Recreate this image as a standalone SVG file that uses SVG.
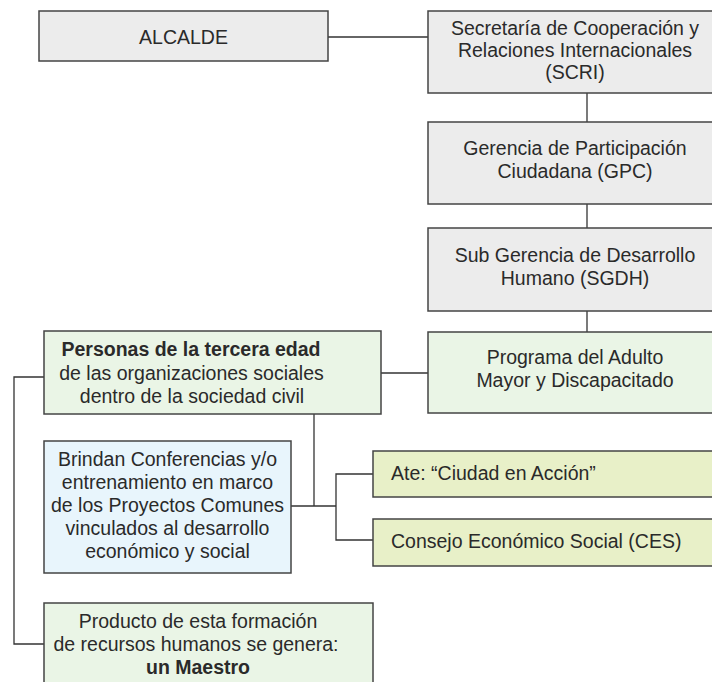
<svg xmlns="http://www.w3.org/2000/svg" width="712" height="682" viewBox="0 0 712 682">
<style>
  .box { stroke: #444; stroke-width: 1.5; }
  .grey { fill: #ececec; }
  .green { fill: #eaf5e6; }
  .blue { fill: #e8f5fc; }
  .olive { fill: #e8f0c8; }
  text { font-family: "Liberation Sans", Arial, sans-serif; font-size: 19.5px; fill: #2a2a2a; }
  .c { text-anchor: middle; }
  .b { font-weight: bold; }
  .conn { stroke: #333; stroke-width: 1.3; fill: none; }
</style>
<rect width="712" height="682" fill="#ffffff"/>
<g id="connectors">
  <path class="conn" d="M328 37 H428"/>
  <path class="conn" d="M587 93 V122"/>
  <path class="conn" d="M587 204 V228"/>
  <path class="conn" d="M587 311 V332"/>
  <path class="conn" d="M381 373 H428"/>
  <path class="conn" d="M44 377 H14 V644 H44"/>
  <path class="conn" d="M314 414 V506"/>
  <path class="conn" d="M291 506 H336"/>
  <path class="conn" d="M373 474 H336 V540 H373"/>
</g>
<g id="alcalde">
  <rect class="box grey" x="39" y="11" width="289" height="50"/>
  <text class="c" x="183.5" y="44">ALCALDE</text>
</g>
<g id="scri">
  <rect class="box grey" x="428" y="11" width="300" height="82"/>
  <text class="c" x="575" y="35">Secretaría de Cooperación y</text>
  <text class="c" x="575" y="57">Relaciones Internacionales</text>
  <text class="c" x="575" y="79">(SCRI)</text>
</g>
<g id="gpc">
  <rect class="box grey" x="428" y="122" width="300" height="82"/>
  <text class="c" x="575" y="155">Gerencia de Participación</text>
  <text class="c" x="575" y="178">Ciudadana (GPC)</text>
</g>
<g id="sgdh">
  <rect class="box grey" x="428" y="228" width="300" height="83"/>
  <text class="c" x="575" y="262">Sub Gerencia de Desarrollo</text>
  <text class="c" x="575" y="285">Humano (SGDH)</text>
</g>
<g id="programa">
  <rect class="box green" x="428" y="332" width="300" height="81"/>
  <text class="c" x="575" y="364">Programa del Adulto</text>
  <text class="c" x="575" y="387">Mayor y Discapacitado</text>
</g>
<g id="personas">
  <rect class="box green" x="44" y="331" width="337" height="83"/>
  <text class="c b" x="191" y="356">Personas de la tercera edad</text>
  <text class="c" x="191.5" y="380">de las organizaciones sociales</text>
  <text class="c" x="192" y="403">dentro de la sociedad civil</text>
</g>
<g id="brindan">
  <rect class="box blue" x="44" y="441" width="247" height="132"/>
  <text class="c" x="167.5" y="466">Brindan Conferencias y/o</text>
  <text class="c" x="167.5" y="489">entrenamiento en marco</text>
  <text class="c" x="167.5" y="512">de los Proyectos Comunes</text>
  <text class="c" x="167.5" y="535">vinculados al desarrollo</text>
  <text class="c" x="167.5" y="558">económico y social</text>
</g>
<g id="ate">
  <rect class="box olive" x="373" y="451" width="355" height="46"/>
  <text x="391" y="480">Ate: “Ciudad en Acción”</text>
</g>
<g id="ces">
  <rect class="box olive" x="373" y="519" width="355" height="47"/>
  <text x="391" y="548">Consejo Económico Social (CES)</text>
</g>
<g id="producto">
  <rect class="box green" x="44" y="603" width="329" height="100"/>
  <text class="c" x="198" y="628">Producto de esta formación</text>
  <text class="c" x="196" y="651">de recursos humanos se genera:</text>
  <text class="c b" x="198" y="674">un Maestro</text>
</g>
</svg>
